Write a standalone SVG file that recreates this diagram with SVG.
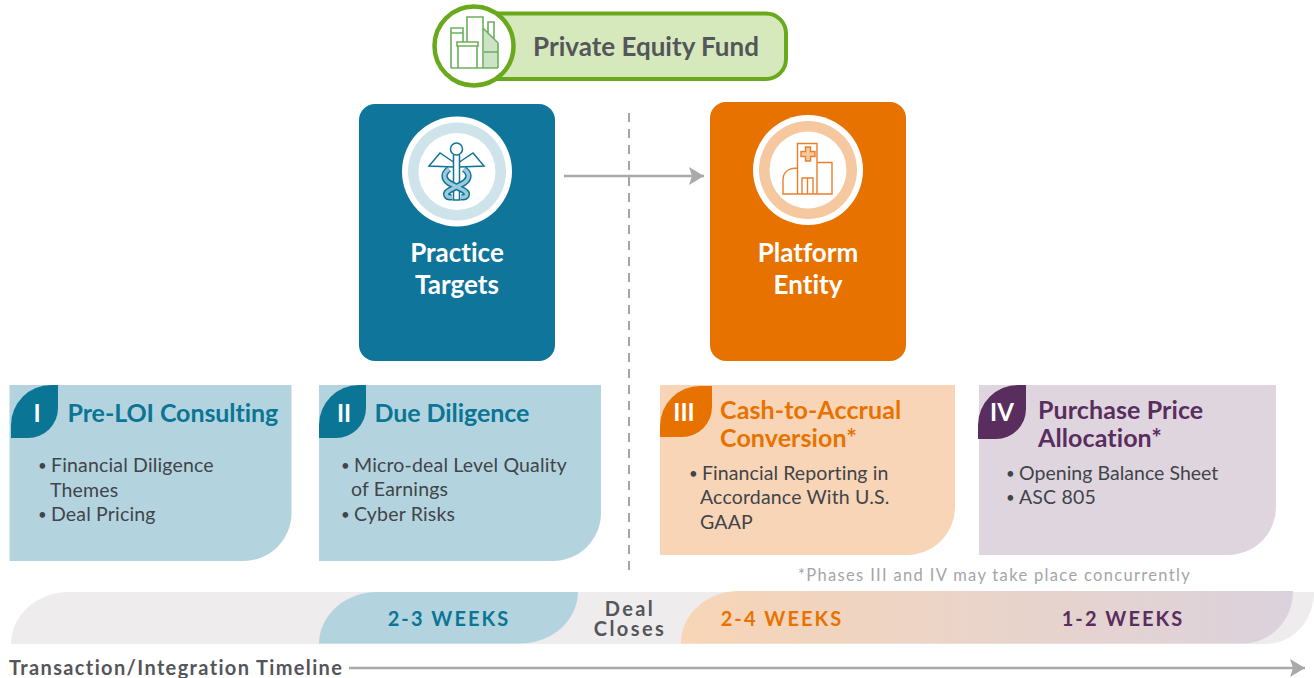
<svg xmlns="http://www.w3.org/2000/svg" width="1314" height="678" viewBox="0 0 1314 678">
<style>
text{font-family:"Lato","Liberation Sans",sans-serif;font-variant-ligatures:none}
.h{font-size:25px;font-weight:700;letter-spacing:.1px}
.hb{letter-spacing:-.07px}
.b{font-size:19.500px;fill:#414449;letter-spacing:.17px}
.d{font-size:15px}
.n{font-size:24px;font-weight:700;fill:#fff;text-anchor:middle}
.t{font-size:26px;font-weight:700;fill:#fff;text-anchor:middle}
.w{font-size:20px;font-weight:700;letter-spacing:2.050px;text-anchor:middle}
.blue{fill:#0b7595}.or{fill:#e87200}.pu{fill:#5a2d5f}
.ig{fill:none;stroke:#6cb05c;stroke-width:1.6}
.ic{fill:none;stroke:#0f7496;stroke-width:1.5}
.io{fill:none;stroke:#ea7f2c;stroke-width:1.4}
.dc{font-size:20px;font-weight:700;fill:#54565a;text-anchor:middle;letter-spacing:2.400px}
</style>
<defs>
<marker id="ah" markerUnits="userSpaceOnUse" markerWidth="16" markerHeight="20" refX="15" refY="10" orient="auto"><path d="M0 1L15 10L0 19L3 10Z" fill="#a9a9ab"/></marker>
<linearGradient id="gr" x1="0" x2="1" y1="0" y2="0"><stop offset="0" stop-color="#f8d5b6"/><stop offset="1" stop-color="#dbd2dd"/></linearGradient>
</defs>
<g id="fund">
<rect x="470" y="13.500" width="316" height="65.500" rx="20" fill="#d6e9bc" stroke="#6aa81c" stroke-width="4"/>
<circle cx="474" cy="46" r="39.500" fill="#fff" stroke="#6aa81c" stroke-width="4.500"/>
<path d="M484 29L498 44V68H484Z" fill="#6cb05c" fill-opacity=".35"/>
<path class="ig" d="M451 68V28H463V42M451 33H463M467 42V17H483V68M483 28L498 43V68M488 33V22H494V39M458 68V46H477V68M457 42H478V46H457ZM451 68H498M484 52H498"/>
<text x="646" y="56" font-size="26" font-weight="700" fill="#54565a" text-anchor="middle">Private Equity Fund</text>
</g>
<g id="practice">
<rect x="359" y="104" width="196" height="257" rx="16" fill="#10759b"/>
<circle cx="457" cy="171.500" r="55" fill="#fff"/>
<circle cx="457" cy="171.500" r="49" fill="#cfe3ea"/>
<circle cx="457" cy="171.500" r="38.500" fill="#fff"/>
<g class="ic">
<circle cx="456.500" cy="149" r="6"/>
<path d="M453.500 155V200H459.500V155"/>
<path d="M453.500 162L440 153L429 166L453.500 167M459.500 162L473 153L484 166L459.500 167"/>
<path d="M449 169C441 175 445 181 451 184L463 190C470 194 466 198 461 197M464 169C472 175 468 181 462 184L450 190C443 194 447 198 452 197" stroke-width="6.500"/>
<path d="M449 169C441 175 445 181 451 184L463 190C470 194 466 198 461 197M464 169C472 175 468 181 462 184L450 190C443 194 447 198 452 197" stroke="#9ccada" stroke-width="3.500"/>
</g>
<text class="t" x="457" y="262">Practice</text>
<text class="t" x="457" y="294">Targets</text>
</g>
<g id="platform">
<rect x="710" y="102" width="196" height="259" rx="16" fill="#e87200"/>
<circle cx="808" cy="170" r="55" fill="#fff"/>
<circle cx="808" cy="170" r="49" fill="#f5c8a0"/>
<circle cx="808" cy="170" r="38.500" fill="#fff"/>
<g class="io">
<path d="M797.500 194V143.500H817V194M817 162.500H832V194H783V180C783 172 789 168 797.500 168"/>
<path d="M802 194V178H813V194M807.500 178V194"/>
<path d="M805.500 147H810.500V151.500H815V156.500H810.500V161H805.500V156.500H801V151.500H805.500Z" fill="#f5c8a0"/>
</g>
<text class="t" x="808" y="262">Platform</text>
<text class="t" x="808" y="294">Entity</text>
</g>
<g id="phase1">
<path d="M9.500 385H291.500V513A48 48 0 0 1 243.500 561H9.500Z" fill="#b3d4de"/>
<path d="M58 385V408A30 30 0 0 1 28 438H11V425A40 40 0 0 1 51 385Z" fill="#0b7595"/>
<text class="n" x="37" y="422">I</text>
<text class="h hb blue" x="67.500" y="422">Pre-LOI Consulting</text>
<text class="b" x="38" y="471"><tspan class="d">•</tspan><tspan x="51" y="472">Financial Diligence</tspan></text>
<text class="b" x="50" y="497">Themes</text>
<text class="b" x="38" y="520"><tspan class="d">•</tspan><tspan x="51" y="521">Deal Pricing</tspan></text>
</g>
<g id="phase2">
<path d="M319 385H601V513A48 48 0 0 1 553 561H319Z" fill="#b3d4de"/>
<path d="M366 385V408A30 30 0 0 1 336 438H319V425A40 40 0 0 1 359 385Z" fill="#0b7595"/>
<text class="n" x="344" y="422">II</text>
<text class="h hb blue" x="374.500" y="422">Due Diligence</text>
<text class="b" x="341" y="471"><tspan class="d">•</tspan><tspan x="354" y="472">Micro-deal Level Quality</tspan></text>
<text class="b" x="351" y="496">of Earnings</text>
<text class="b" x="341" y="520"><tspan class="d">•</tspan><tspan x="354" y="521">Cyber Risks</tspan></text>
</g>
<g id="phase3">
<path d="M660 385H955V507A48 48 0 0 1 907 555H660Z" fill="#f8d5b6"/>
<path d="M712 386V407A30 30 0 0 1 682 437H660V426A40 40 0 0 1 700 386Z" fill="#e87200"/>
<text class="n" x="684" y="421">III</text>
<text class="h or" x="720" y="419">Cash-to-Accrual</text>
<text class="h or" x="720" y="447">Conversion*</text>
<text class="b" x="689" y="479"><tspan class="d">•</tspan><tspan x="702" y="480" letter-spacing=".08">Financial Reporting in</tspan></text>
<text class="b" x="700" y="504">Accordance With U.S.</text>
<text class="b" x="700" y="529">GAAP</text>
</g>
<g id="phase4">
<path d="M979 385H1276V507A48 48 0 0 1 1228 555H979Z" fill="#dfd5df"/>
<path d="M1026 385V409A30 30 0 0 1 996 439H978V425A40 40 0 0 1 1018 385Z" fill="#5a2d5f"/>
<text class="n" x="1002" y="421">IV</text>
<text class="h pu" x="1038" y="419">Purchase Price</text>
<text class="h pu" x="1038" y="447">Allocation*</text>
<text class="b" x="1006" y="479"><tspan class="d">•</tspan><tspan x="1019" y="480" letter-spacing=".03">Opening Balance Sheet</tspan></text>
<text class="b" x="1006" y="503"><tspan class="d">•</tspan><tspan x="1019" y="504">ASC 805</tspan></text>
</g>
<g id="connectors" fill="none" stroke="#a9a9ab">
<path d="M564 176H704" stroke-width="2.500" marker-end="url(#ah)"/>
<path d="M629 113V573" stroke-width="2" stroke-dasharray="9 7" stroke="#a5a5a7"/>
<path d="M349 668H1305" stroke-width="2.500" marker-end="url(#ah)"/>
</g>
<g id="timeline">
<path d="M11 644A58 52 0 0 1 69 592H1314A48 52 0 0 1 1266 644Z" fill="#eeeced"/>
<path d="M319 644A58 52 0 0 1 377 592H578A58 52 0 0 1 520 643.500H319Z" fill="#b3d4de"/>
<path d="M681 643.500A58 52 0 0 1 739 591H1293A50 52 0 0 1 1243 643.500Z" fill="url(#gr)"/>
<text class="w blue" x="449" y="626">2-3 WEEKS</text>
<text class="w or" x="782" y="626">2-4 WEEKS</text>
<text class="w pu" x="1123" y="626">1-2 WEEKS</text>
<text class="dc" x="630" y="616">Deal</text>
<text class="dc" x="630" y="636">Closes</text>
<text x="798" y="581" font-size="16.500" fill="#a5a5a7" letter-spacing="1.330">*Phases III and IV may take place concurrently</text>
<text x="9" y="675" font-size="20" font-weight="700" fill="#54565a" letter-spacing="1.360">Transaction/Integration Timeline</text>
</g>
</svg>
